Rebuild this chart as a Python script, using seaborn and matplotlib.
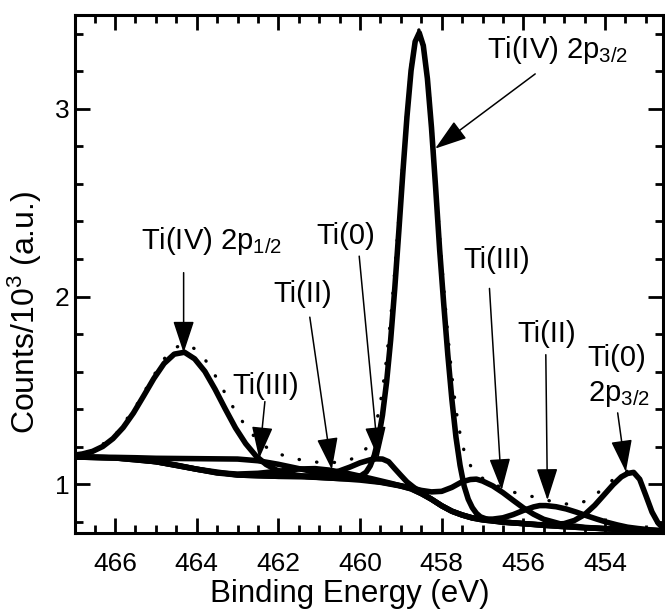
import numpy as np
import pandas as pd
import seaborn as sns
import matplotlib.pyplot as plt
from matplotlib.ticker import MultipleLocator

# Data (binding energy in eV, counts / 10^3)
# =====================================================================
# Shirley background
bg_e = [467.0, 466.5, 466.0, 465.5, 465.0, 464.5, 464.0, 463.5, 463.0, 462.5, 462.0, 461.5,
        461.0, 460.5, 460.0, 459.5, 459.0, 458.75, 458.5, 458.25, 458.0, 457.75, 457.5, 457.25,
        457.0, 456.5, 456.0, 455.5, 455.0, 454.5, 454.0, 453.5, 453.0, 452.6]
bg_v = [1.145, 1.143, 1.140, 1.133, 1.120, 1.102, 1.080, 1.060, 1.049, 1.045, 1.042, 1.040,
        1.036, 1.030, 1.022, 1.010, 0.990, 0.975, 0.950, 0.920, 0.885, 0.856, 0.836, 0.820,
        0.810, 0.798, 0.790, 0.781, 0.774, 0.768, 0.763, 0.758, 0.754, 0.751]

# Ti(IV) component (2p3/2 + 2p1/2) on background
ti4_e = [467.0, 466.8, 466.55, 466.3, 466.05, 465.8, 465.55, 465.3, 465.05, 464.8, 464.55, 464.3,
         464.05, 463.8, 463.55, 463.3, 463.05, 462.8, 462.55, 462.3, 462.05, 461.8, 461.55, 461.3,
         461.0, 460.5, 460.25, 460.05, 459.85, 459.75, 459.65, 459.55, 459.45, 459.35, 459.25,
         459.15, 459.05, 458.95, 458.85, 458.75, 458.65, 458.55, 458.45, 458.35, 458.25, 458.15,
         458.05, 457.95, 457.85, 457.75, 457.65, 457.55, 457.45, 457.35, 457.25, 457.15, 457.05,
         456.85, 456.5, 456.0, 455.5, 455.0, 454.5, 454.0, 453.5, 453.0, 452.6]
ti4_v = [1.155, 1.161, 1.175, 1.201, 1.243, 1.302, 1.379, 1.470, 1.563, 1.643, 1.693, 1.703,
         1.668, 1.601, 1.506, 1.401, 1.300, 1.216, 1.151, 1.105, 1.076, 1.058, 1.048, 1.041,
         1.036, 1.030, 1.029, 1.035, 1.064, 1.098, 1.154, 1.242, 1.368, 1.543, 1.768,
         2.041, 2.347, 2.664, 2.959, 3.204, 3.358, 3.405, 3.336, 3.161, 2.900, 2.585,
         2.249, 1.960, 1.690, 1.450, 1.250, 1.100, 0.990, 0.920, 0.875, 0.845, 0.826,
         0.810, 0.798, 0.790, 0.781, 0.774, 0.768, 0.763, 0.758, 0.754, 0.751]

# Ti(III) component on background
ti3_e = [467.0, 466.0, 465.5, 465.0, 464.5, 464.0, 463.5, 463.0, 462.5, 462.0, 461.5, 461.0,
         460.5, 460.0, 459.5, 459.0, 458.75, 458.5, 458.25, 458.0, 457.75, 457.5, 457.3, 457.15,
         457.0, 456.75, 456.5, 456.25, 456.0, 455.75, 455.5, 455.0, 454.5, 454.0, 453.5, 453.0, 452.6]
ti3_v = [1.145, 1.143, 1.141, 1.138, 1.137, 1.136, 1.135, 1.134, 1.125, 1.106, 1.083, 1.060,
         1.041, 1.027, 1.012, 0.992, 0.981, 0.967, 0.959, 0.962, 0.983, 1.013, 1.025, 1.027,
         1.017, 0.991, 0.955, 0.914, 0.874, 0.840, 0.813, 0.783, 0.770, 0.763, 0.758, 0.754, 0.751]

# Ti(II) component on background
ti2_e = [467.0, 466.0, 465.0, 464.0, 463.5, 463.0, 462.5, 462.0, 461.5, 461.1, 460.75, 460.25,
         459.75, 459.25, 458.75, 458.5, 458.25, 458.0, 457.75, 457.5, 457.25, 457.0, 456.75, 456.5,
         456.25, 456.0, 455.75, 455.6, 455.45, 455.2, 454.95, 454.7, 454.45, 454.2, 453.95, 453.7,
         453.45, 453.2, 452.9, 452.6]
ti2_v = [1.145, 1.140, 1.120, 1.080, 1.061, 1.054, 1.058, 1.069, 1.081, 1.083, 1.075, 1.055,
         1.031, 1.005, 0.976, 0.950, 0.920, 0.885, 0.856, 0.836, 0.821, 0.814, 0.814, 0.821,
         0.838, 0.860, 0.879, 0.886, 0.886, 0.880, 0.868, 0.851, 0.832, 0.814, 0.797, 0.783,
         0.771, 0.764, 0.757, 0.753]

# Ti(0) component on background
ti0_e = [467.0, 466.0, 465.0, 464.0, 463.0, 462.0, 461.5, 461.0, 460.75, 460.5, 460.25, 460.0,
         459.75, 459.6, 459.45, 459.3, 459.15, 459.0, 458.85, 458.7, 458.5, 458.25, 458.0, 457.75,
         457.5, 457.25, 457.0, 456.5, 456.0, 455.5, 455.0, 454.75, 454.5, 454.25, 454.0, 453.8,
         453.6, 453.45, 453.3, 453.15, 453.0, 452.85, 452.7, 452.6]
ti0_v = [1.145, 1.140, 1.120, 1.080, 1.049, 1.042, 1.042, 1.047, 1.055, 1.071, 1.091, 1.114,
         1.130, 1.135, 1.134, 1.120, 1.083, 1.047, 1.012, 0.986, 0.954, 0.920, 0.885, 0.856,
         0.836, 0.820, 0.810, 0.798, 0.790, 0.783, 0.790, 0.807, 0.838, 0.888, 0.949, 0.998,
         1.039, 1.057, 1.063, 1.026, 0.940, 0.852, 0.793, 0.771]

# Measured spectrum (dotted)
dat_e = [467.0, 466.5, 466.0, 465.5, 465.05, 464.8, 464.55, 464.3, 464.05, 463.8, 463.55, 463.3,
         463.05, 462.8, 462.55, 462.3, 462.05, 461.8, 461.55, 461.3, 461.0, 460.75, 460.5, 460.25,
         460.05, 459.85, 459.75, 459.65, 459.55, 459.45, 459.35, 459.25, 459.15, 459.05, 458.95,
         458.85, 458.75, 458.65, 458.55, 458.45, 458.35, 458.25, 458.15, 458.05, 457.95, 457.85,
         457.75, 457.65, 457.55, 457.45, 457.35, 457.25, 457.15, 457.05, 456.85, 456.5, 456.25,
         456.0, 455.75, 455.5, 455.25, 455.0, 454.75, 454.5, 454.25, 454.0, 453.8, 453.6, 453.45,
         453.3, 453.15, 453.0, 452.85, 452.7, 452.6]
dat_v = [1.156, 1.182, 1.260, 1.411, 1.580, 1.667, 1.726, 1.746, 1.722, 1.666, 1.580, 1.483,
         1.388, 1.309, 1.244, 1.198, 1.168, 1.147, 1.134, 1.124, 1.116, 1.114, 1.118, 1.130,
         1.150, 1.190, 1.229, 1.288, 1.377, 1.501, 1.670, 1.881, 2.134, 2.418, 2.716,
         2.996, 3.230, 3.379, 3.424, 3.359, 3.190, 2.939, 2.637, 2.317, 2.046, 1.796,
         1.577, 1.398, 1.268, 1.176, 1.120, 1.083, 1.057, 1.038, 1.014, 0.978, 0.958,
         0.944, 0.933, 0.921, 0.904, 0.895, 0.894, 0.908, 0.941, 0.986, 1.025, 1.058, 1.070,
         1.073, 1.034, 0.945, 0.856, 0.795, 0.773]

# Annotations: label, text anchor (left, baseline), arrow tail, arrow tip
ann_text = ['Ti(IV) 2p$_{3/2}$', 'Ti(IV) 2p$_{1/2}$', 'Ti(III)', 'Ti(II)', 'Ti(0)',
            'Ti(III)', 'Ti(II)', 'Ti(0)']
ann_pos = [(456.89, 3.27), (465.37, 2.255), (463.12, 1.48), (462.13, 1.97), (461.08, 2.28),
           (457.46, 2.15), (456.15, 1.757), (454.42, 1.628)]
ann_tail = [(455.71, 3.186), (464.32, 2.127), (462.33, 1.44), (461.23, 1.89), (460.02, 2.215),
            (456.83, 2.043), (455.45, 1.69), (453.69, 1.38)]
ann_tip = [(458.16, 2.788), (464.32, 1.70), (462.47, 1.137), (460.69, 1.078), (459.55, 1.137),
           (456.53, 0.968), (455.41, 0.915), (453.49, 1.066)]
extra_text = '2p$_{3/2}$'
extra_pos = (454.42, 1.442)

# Data Visualization
# =====================================================================
sns.set_theme(style='ticks')
plt.rcParams.update({
    'font.family': ['Liberation Sans', 'DejaVu Sans'],
    'mathtext.fontset': 'custom',
    'mathtext.rm': 'Liberation Sans',
    'mathtext.it': 'Liberation Sans:italic',
    'mathtext.bf': 'Liberation Sans:bold',
    'text.color': 'black',
    'axes.labelcolor': 'black',
})

fig = plt.figure(figsize=(6.65, 6.09), dpi=100)
ax = fig.add_axes([0.1128, 0.1248, 0.8842, 0.8506])

# Fit components
for e, v in [(bg_e, bg_v), (ti4_e, ti4_v), (ti3_e, ti3_v), (ti2_e, ti2_v), (ti0_e, ti0_v)]:
    sns.lineplot(x=e, y=v, ax=ax, color='black', linewidth=4.0, sort=True)

# Measured data (dotted)
sns.lineplot(x=dat_e, y=dat_v, ax=ax, color='black', linewidth=2.4, sort=True)
dots = ax.get_lines()[-1]
dots.set_linestyle((0, (0.1, 5.2)))
dots.set_dash_capstyle('round')

# Axes
ax.set_xlim(466.98, 452.58)
ax.set_ylim(0.74, 3.5)
ax.xaxis.set_major_locator(MultipleLocator(2))
ax.xaxis.set_minor_locator(MultipleLocator(0.5))
ax.yaxis.set_major_locator(MultipleLocator(1))
ax.yaxis.set_minor_locator(MultipleLocator(0.2))
ax.tick_params(which='both', direction='in', top=True, right=True, width=2.0, colors='black')
ax.tick_params(which='major', length=11)
ax.tick_params(which='minor', length=5.5)
ax.tick_params(axis='x', which='major', pad=14, labelsize=19)
ax.tick_params(axis='y', which='major', pad=4, labelsize=19)
for sp in ax.spines.values():
    sp.set_linewidth(2.2)
    sp.set_color('black')
    sp.set_visible(True)

ax.set_xlabel('Binding Energy (eV)', fontsize=22.5)
ax.xaxis.set_label_coords(0.468, -0.133)
ax.xaxis.label.set_va('baseline')
ax.set_ylabel('Counts/10$^3$ (a.u.)', fontsize=23)
ax.yaxis.set_label_coords(-0.085, 0.425)
ax.yaxis.label.set_va('center')

# Peak labels with arrows
for lab, pos, tail, tip in zip(ann_text, ann_pos, ann_tail, ann_tip):
    ax.annotate('', xy=tip, xytext=tail,
                arrowprops=dict(arrowstyle='-|>,head_length=1.0,head_width=0.33',
                                mutation_scale=20, lw=1.1, color='black',
                                shrinkA=0, shrinkB=0))
    ax.text(pos[0], pos[1], lab, ha='left', va='baseline', fontsize=21)
ax.text(extra_pos[0], extra_pos[1], extra_text, ha='left', va='baseline', fontsize=21)

plt.savefig('out.png', dpi=100, facecolor='white')
